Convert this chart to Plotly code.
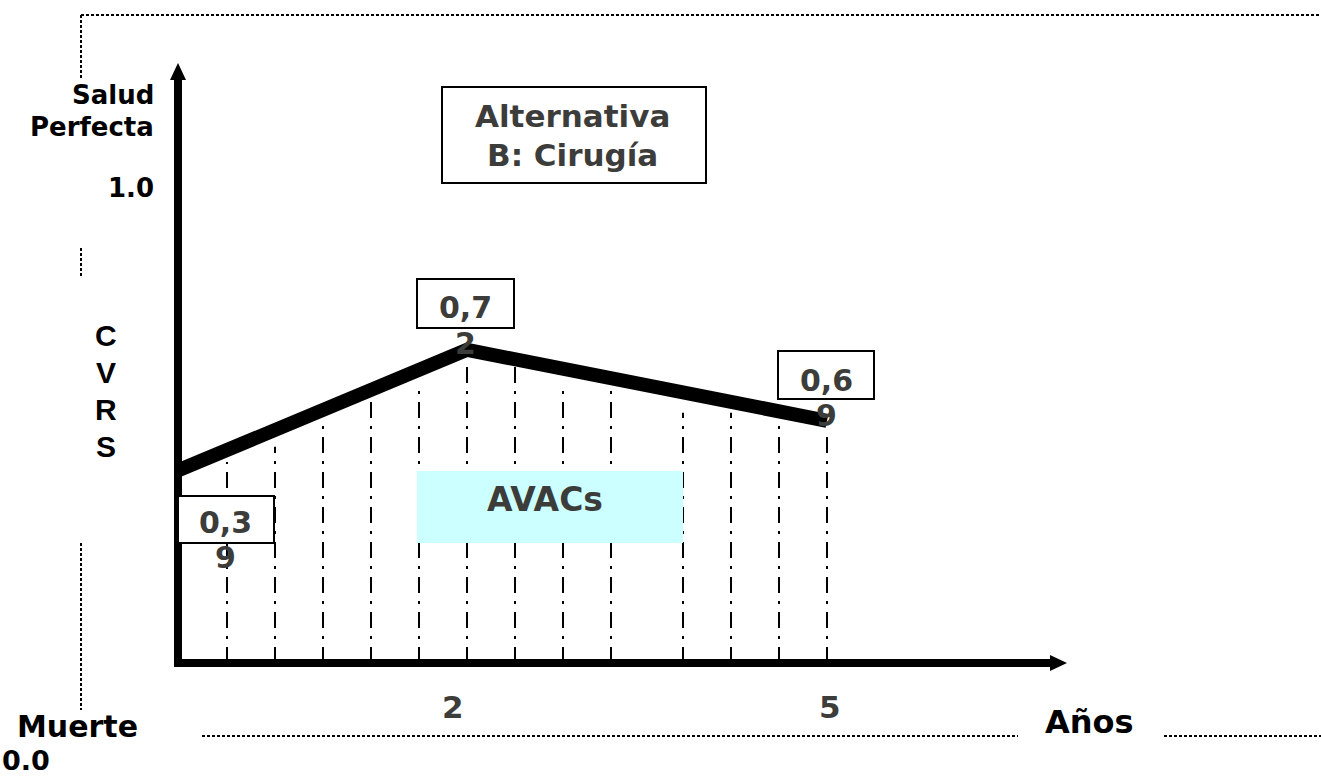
import plotly.graph_objects as go

# ---------------- data ----------------
# x in grid steps from the vertical axis, y on the CVRS scale (0 = muerte, 1 = salud perfecta)
line_x = [0, 6, 13.5]
line_y = [0.408, 0.662, 0.512]
value_labels = ["0,39", "0,72", "0,69"]

grid_x = [1, 2, 3, 4, 5, 6, 7, 8, 9, 10.5, 11.5, 12.5, 13.5]
grid_top = [0.425, 0.457, 0.510, 0.556, 0.579, 0.634, 0.658, 0.579, 0.579, 0.529, 0.529, 0.507, 0.478]

tick_x = [5.71, 13.56]
tick_labels = ["2", "5"]

W, H = 1321, 776
X0, STEP = 179, 48          # pixel of x=0, pixels per grid step
Y0, UNIT = 663, 473         # pixel of y=0, pixels per CVRS unit

DARK = "#3c3c3a"
FONT = "DejaVu Sans"


def px(x):
    return x / W


def py(y):
    return 1 - y / H


fig = go.Figure()

# dash-dot verticals
gx, gy = [], []
for x, t in zip(grid_x, grid_top):
    gx += [x, x, None]
    gy += [0, t, None]
fig.add_trace(go.Scatter(x=gx, y=gy, mode="lines",
                         line=dict(color="black", width=2, dash="16px,8px,3px,8px"),
                         hoverinfo="skip", showlegend=False))

# thick CVRS line
fig.add_trace(go.Scatter(x=line_x, y=line_y, mode="lines",
                         line=dict(color="black", width=14),
                         hoverinfo="skip", showlegend=False))

shapes = []
# dotted frame
dot = dict(color="black", width=2, dash="3px,2px")
for (x1, y1, x2, y2) in [(81, 15, 1321, 15), (81, 15, 81, 78), (81, 248, 81, 278),
                         (81, 543, 81, 710), (202, 736, 1018, 736), (1164, 736, 1321, 736)]:
    shapes.append(dict(type="line", xref="paper", yref="paper",
                       x0=px(x1), y0=py(y1), x1=px(x2), y1=py(y2), line=dot))

# axes with arrows
shapes.append(dict(type="line", xref="paper", yref="paper", x0=px(178), y0=py(667),
                   x1=px(178), y1=py(76), line=dict(color="black", width=8)))
shapes.append(dict(type="line", xref="paper", yref="paper", x0=px(174), y0=py(663),
                   x1=px(1052), y1=py(663), line=dict(color="black", width=8)))
shapes.append(dict(type="path", xref="paper", yref="paper",
                   path=f"M {px(178)},{py(63)} L {px(170)},{py(80)} L {px(186)},{py(80)} Z",
                   fillcolor="black", line=dict(width=0)))
shapes.append(dict(type="path", xref="paper", yref="paper",
                   path=f"M {px(1067)},{py(663)} L {px(1050)},{py(655)} L {px(1050)},{py(671)} Z",
                   fillcolor="black", line=dict(width=0)))

# title box
shapes.append(dict(type="rect", xref="paper", yref="paper", x0=px(442), y0=py(87),
                   x1=px(706), y1=py(183), line=dict(color="black", width=2), fillcolor="white"))
# AVACs box
shapes.append(dict(type="rect", xref="paper", yref="paper", x0=px(417), y0=py(471),
                   x1=px(683), y1=py(543), line=dict(width=0), fillcolor="#ccffff"))

# value label boxes (placed near each vertex)
box_px = [(178, 496, 274, 543), (417, 279, 514, 328), (778, 351, 874, 399)]
text_px = [(226, 522, 557), (465, 308, 343), (826, 380, 415)]
for (a, b, c, d) in box_px:
    shapes.append(dict(type="rect", xref="paper", yref="paper", x0=px(a), y0=py(b),
                       x1=px(c), y1=py(d), line=dict(color="black", width=2), fillcolor="white"))

ann = []


def text(t, x, y, size, color="black", family=FONT, xanchor="center", align="center"):
    ann.append(dict(text=t, x=px(x), y=py(y), xref="paper", yref="paper", showarrow=False,
                    xanchor=xanchor, yanchor="middle", align=align,
                    borderpad=0, borderwidth=0,
                    font=dict(family=family, size=size, color=color, weight="bold")))


for lab, (x, y1, y2) in zip(value_labels, text_px):
    text(lab[:-1], x, y1, 30, DARK)
    text(lab[-1], x, y2, 30, DARK)

for tx, tl in zip(tick_x, tick_labels):
    ann.append(dict(text=tl, x=tx, y=(Y0 - 707) / UNIT, xref="x", yref="y", showarrow=False,
                    xanchor="center", yanchor="middle",
                    font=dict(family=FONT, size=31, color=DARK, weight="bold")))

text("Alternativa", 572, 116, 31, DARK)
text("B: Cirugía", 572, 155, 31, DARK)
text("AVACs", 545, 499, 33, DARK)
text("Salud", 154, 95, 26, xanchor="right", align="right")
text("Perfecta", 154, 127, 26, xanchor="right", align="right")
text("1.0", 154, 188, 26, xanchor="right", align="right")
text("Muerte", 17, 726, 30, xanchor="left", align="left")
text("0.0", 2, 760, 27, xanchor="left", align="left")
text("Años", 1089, 722, 32)
for i, ch in enumerate("CVRS"):
    text(ch, 106, 335 + i * 37.3, 30, family="Liberation Sans, Arial")

fig.update_layout(
    width=W, height=H, autosize=False,
    margin=dict(l=0, r=0, t=0, b=0),
    paper_bgcolor="white", plot_bgcolor="white",
    xaxis=dict(range=[-X0 / STEP, (W - X0) / STEP], visible=False, fixedrange=True),
    yaxis=dict(range=[(Y0 - H) / UNIT, Y0 / UNIT], visible=False, fixedrange=True),
    shapes=shapes, annotations=ann, showlegend=False,
)

fig.write_html("out.html", post_script="document.body.style.margin='0';",
               config={"displayModeBar": False})
